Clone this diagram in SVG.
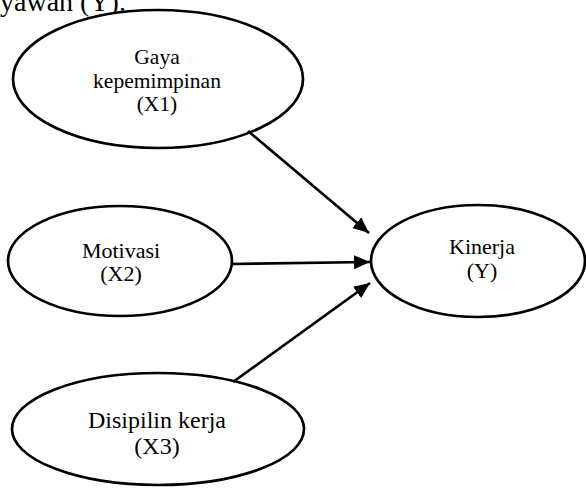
<svg xmlns="http://www.w3.org/2000/svg" width="586" height="488" viewBox="0 0 586 488">
<defs>
<style>
.node ellipse{fill:#fff;stroke:#000;stroke-width:2.7}
text{font-family:"Liberation Serif","Times New Roman",serif;fill:#000;text-anchor:middle}
.edge{stroke:#000;stroke-width:2.7;fill:none}
</style>
<marker id="ah" viewBox="0 0 16 14" refX="16" refY="7" markerWidth="16" markerHeight="14" markerUnits="userSpaceOnUse" orient="auto">
<path d="M0,0 L16,7 L0,14 z" fill="#000"/>
</marker>
</defs>
<rect width="586" height="488" fill="#fff"/>
<text x="0" y="11" font-size="28" style="text-anchor:start">yawan (Y).</text>
<g id="x1" class="node">
<ellipse cx="158" cy="79" rx="145" ry="69"/>
<text font-size="21.5"><tspan x="157" y="64">Gaya</tspan><tspan x="157" y="88">kepemimpinan</tspan><tspan x="157" y="111">(X1)</tspan></text>
</g>
<g id="x2" class="node">
<ellipse cx="120" cy="261" rx="112" ry="55"/>
<text font-size="22"><tspan x="121" y="258">Motivasi</tspan><tspan x="121" y="281">(X2)</tspan></text>
</g>
<g id="y" class="node">
<ellipse cx="478" cy="261" rx="107" ry="56"/>
<text font-size="22"><tspan x="482" y="254">Kinerja</tspan><tspan x="482" y="278">(Y)</tspan></text>
</g>
<g id="x3" class="node">
<ellipse cx="158" cy="429" rx="146" ry="56"/>
<text font-size="24"><tspan x="157" y="428">Disipilin kerja</tspan><tspan x="157" y="454">(X3)</tspan></text>
</g>
<g id="edges">
<path class="edge" d="M248,131 L369,233" marker-end="url(#ah)"/>
<path class="edge" d="M232,264 L370,262" marker-end="url(#ah)"/>
<path class="edge" d="M233,382 L370,283" marker-end="url(#ah)"/>
</g>
</svg>
